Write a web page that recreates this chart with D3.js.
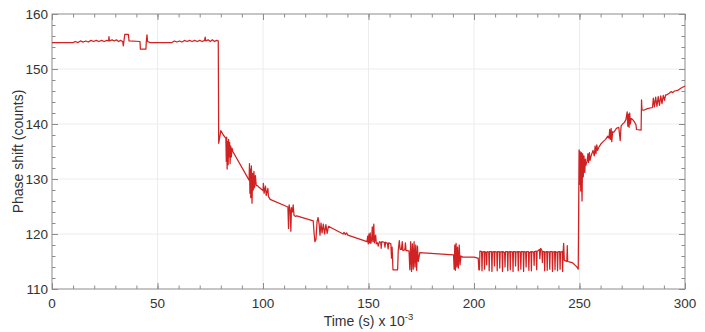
<!DOCTYPE html>
<html>
<head>
<meta charset="utf-8">
<title>Phase shift</title>
<script src="https://cdnjs.cloudflare.com/ajax/libs/d3/7.8.5/d3.min.js"></script>
<style>
  body { margin: 0; background: #fff; }
  svg { display: block; font-family: "Liberation Sans", Arial, sans-serif; }
</style>
</head>
<body>
<svg id="chart" width="705" height="332"></svg>
<script>
// time (s x 10^-3), phase shift (counts)
const plateau = [
  [0,154.8],[10,154.8],[11,155.0],[12.3,154.8],[13.5,155.1],[14.8,154.9],[16,155.1],[17.2,154.9],
  [18.5,155.2],[19.7,155.0],[21,155.2],[22.2,155.0],[23.5,155.2],[24.7,155.0],[26,155.2],[26.8,155.1],
  [27,155.9],[27.2,155.1],[28.5,155.3],[29.5,155.1],[30.5,155.3],[31.5,155.0],[32.5,155.2],[33.5,155.0],
  [33.8,154.2],[34.1,155.1],[34.5,156.3],[36.2,156.3],[36.5,155.1],[41.7,155.0],[41.9,153.6],[44.5,153.6],
  [44.7,155.0],[45.0,156.2],[45.3,155.0],[46.5,154.8],[56.8,154.8],[58,155.1],[59.2,154.9],[60.4,155.1],
  [61.6,154.9],[62.8,155.2],[64,155.0],[65.2,155.2],[66.4,155.0],[67.6,155.2],[68.8,155.0],[70,155.2],
  [71.2,155.0],[72.3,155.2],[72.6,155.8],[72.9,155.1],[74,155.3],[75,155.0],[76,155.3],[77,155.0],
  [78,155.2],[78.8,155.1]
];
const decay = [
  [79.0,136.5],[79.5,137.6],[80.0,138.8],[81.2,138.0],[82.4,137.4],[82.6,133.2],[82.8,137.6],[83.0,131.8],
  [83.2,136.8],[83.5,132.6],[83.7,137.2],[83.9,134.0],[84.2,136.6],[84.4,132.8],[84.7,136.0],[85.0,134.0],
  [85.3,135.6],[85.7,135.0],[93.4,129.8],[93.6,132.8],[93.8,127.4],[94.0,131.8],[94.2,126.6],[94.5,132.4],
  [94.8,125.6],[95.1,131.0],[95.4,128.0],[95.7,131.4],[96.0,128.4],[96.4,130.6],[96.8,128.8],[97.4,128.8],
  [97.8,128.6],[100.0,127.9],[100.2,129.2],[100.5,127.4],[101.2,128.7],[101.5,127.0],[102.3,128.3],[102.6,126.8],
  [103.4,126.3],[111.8,124.9],[112.1,121.0],[112.4,125.3],[112.9,124.2],[113.2,120.5],[113.5,124.8],[114.0,124.0],
  [114.3,125.3],[114.7,123.4],[115.3,123.2],[116.0,123.3],[123.8,122.4],[124.2,120.2],[124.6,118.6],[125.1,119.0],
  [125.6,122.2],[126.1,123.0],[126.6,121.8],[127.0,119.8],[127.5,122.0],[128.0,120.2],[128.6,121.8],[129.2,120.0],
  [129.8,121.7],[130.4,120.1],[131.0,121.4],[138.0,120.0],[138.4,120.3],[139.0,119.9],[139.6,120.2],[140.2,119.8],
  [149.3,118.6],[149.6,119.6],[149.9,118.2],[150.2,120.0],[150.5,118.4],[150.8,120.2],[151.1,118.3],[151.5,119.0],
  [151.8,121.3],[152.1,118.6],[152.5,121.8],[152.8,118.4],[153.4,119.8],[153.7,118.2],[154.3,118.4],[154.6,117.8],
  [155.2,118.6],[155.8,118.5],[156.0,117.4],[156.3,118.6],[157.5,118.5],[157.8,117.6],[158.1,118.5],[159.0,118.3],
  [159.3,117.3],[159.6,118.4],[160.6,118.2],[160.9,115.6],[161.2,117.6],[161.6,113.5],[163.8,113.5],[164.1,117.0],
  [164.6,118.8],[165.0,117.2],[165.6,117.2],[166.0,118.6],[166.3,117.0],[167.2,117.1],[167.5,118.4],[167.8,117.0],
  [168.6,117.0],[169.2,116.9],[169.6,113.5],[170.0,118.6],[170.4,113.2],[170.8,118.2],[171.2,113.6],[171.6,118.6],
  [172.0,114.0],[172.4,118.0],[172.8,113.4],[173.2,117.8],[173.6,115.0],[174.3,116.6],[190.3,116.2],[190.6,113.6],
  [190.9,118.0],[191.2,113.4],[191.5,118.3],[191.9,114.0],[192.2,117.6],[192.6,113.8],[193.0,118.0],[193.4,114.4],
  [193.8,116.0],[194.7,115.8],[200.0,115.8],[201.8,115.6]
];
const noisyFloor = [
  [202.0,115.6],[202.3,113.5],[202.6,113.5],[202.8,116.9],[203.6,116.8],[203.8,113.3],[204.0,116.7],[204.8,116.8],
  [205.0,113.6],[205.2,116.8],[205.8,116.6],[206.0,114.4],[206.2,116.8],[207.0,116.7],[207.2,113.3],[207.4,116.8],
  [208.3,116.8],[208.5,113.2],[208.7,116.7],[209.5,116.8],[209.7,114.2],[209.9,116.8],[210.8,116.7],[211.0,113.3],
  [211.2,116.8],[212.0,116.8],[212.2,113.8],[212.4,116.7],[213.3,116.8],[213.5,113.2],[213.7,116.8],[214.5,116.6],
  [214.7,114.0],[214.9,116.8],[215.8,116.8],[216.0,113.3],[216.2,116.7],[217.0,116.8],[217.2,113.5],[217.4,116.8],
  [218.3,116.7],[218.5,113.2],[218.7,116.8],[219.5,116.8],[219.7,114.2],[219.9,116.7],[220.8,116.8],[221.0,113.3],
  [221.2,116.8],[222.0,116.7],[222.2,113.6],[222.4,116.8],[223.3,116.8],[223.5,113.2],[223.7,116.8],[224.5,116.7],
  [224.7,114.0],[224.9,116.8],[225.8,116.8],[226.0,113.4],[226.2,116.6],[227.0,116.8],[227.2,113.3],[227.4,116.8],
  [228.3,116.7],[228.5,114.3],[228.7,116.8],[229.5,116.9],[229.7,113.5],[229.9,116.8],[231.0,117.2],[231.2,115.5],
  [231.6,117.4],[232.2,117.0],[232.4,114.8],[232.6,116.8],[233.3,116.8],[233.5,113.3],[233.7,116.7],[234.5,116.8],
  [234.7,113.4],[234.9,116.8],[235.7,116.7],[235.9,113.6],[236.1,116.8],[237.0,116.8],[237.2,113.2],[237.4,116.7],
  [238.2,116.8],[238.4,113.5],[238.6,116.8],[239.4,116.6],[239.6,113.3],[239.8,116.8],[240.6,116.8],[240.8,113.6],
  [241.0,116.7],[241.8,116.8],[242.0,113.2],[242.2,116.5],[242.5,118.3],[242.8,115.2],[243.5,115.1],[244.0,115.0],
  [244.2,117.9],[244.4,115.0],[245.5,114.9],[246.5,114.8],[247.2,114.6],[248.0,114.3],[248.8,114.0],[249.4,113.6]
];
const recovery = [
  [249.8,135.3],[250.0,129.0],[250.3,135.0],[250.6,127.8],[250.9,134.8],[251.2,126.0],[251.5,134.6],[251.8,130.4],
  [252.1,134.2],[252.5,131.2],[252.8,133.6],[253.0,132.5],[253.6,133.2],[254.0,134.6],[254.3,133.0],[254.7,134.8],
  [255.0,133.4],[255.5,134.2],[256.4,135.2],[257.0,134.2],[257.4,136.0],[257.8,134.6],[258.2,136.2],[258.6,135.2],
  [259.2,135.8],[260.2,136.4],[261.2,136.8],[262.4,137.2],[263.4,137.8],[264.0,137.4],[264.3,139.0],[264.6,137.2],
  [265.0,139.2],[265.3,136.8],[265.7,138.6],[266.3,138.5],[267.5,139.2],[268.6,139.4],[269.0,138.0],[269.3,137.0],
  [269.7,139.6],[270.4,140.0],[271.3,140.3],[272.0,140.8],[272.6,142.2],[272.9,139.6],[273.2,141.8],[273.5,139.4],
  [273.8,142.0],[274.1,140.0],[274.5,141.0],[275.2,140.8],[276.0,140.4],[276.8,139.8],[277.0,139.0],[279.2,138.9],
  [279.4,144.4],[279.6,142.6],[280.4,142.5],[282.2,142.8],[284.6,143.0],[285.0,144.7],[285.5,143.1],[286.1,144.9],
  [286.7,143.2],[287.3,145.0],[287.9,143.4],[288.5,145.1],[289.1,143.7],[289.7,145.2],[290.3,144.3],[290.8,145.3],
  [291.4,145.3],[292.5,145.6],[293.5,145.9],[294.2,145.7],[295.0,146.0],[296.5,146.1],[298.0,146.5],[300.0,146.9]
];
const xTicks = [0, 50, 100, 150, 200, 250, 300];
const yTicks = [110, 120, 130, 140, 150, 160];

const series = plateau.concat(decay, noisyFloor, recovery);

const svg = d3.select('#chart');
const mL = 52, mR = 685, mT = 14, mB = 289;

const x = d3.scaleLinear().domain([0, 300]).range([mL, mR]);
const y = d3.scaleLinear().domain([110, 160]).range([mB, mT]);

// grid
svg.append('g').selectAll('line').data(xTicks.slice(1, -1)).enter().append('line')
  .attr('x1', d => x(d)).attr('x2', d => x(d)).attr('y1', mT).attr('y2', mB)
  .attr('stroke', '#ececec');
svg.append('g').selectAll('line').data(yTicks.slice(1, -1)).enter().append('line')
  .attr('y1', d => y(d)).attr('y2', d => y(d)).attr('x1', mL).attr('x2', mR)
  .attr('stroke', '#ececec');

// inward ticks on all four sides
const axisColor = '#8c8c8c';
function ticks(axis, scale, values, size, offset) {
  const g = svg.append('g').attr('transform', offset)
    .call(axis(scale).tickValues(values).tickSize(size).tickFormat(''));
  g.select('.domain').remove();
  g.selectAll('line').attr('stroke', axisColor);
}
const xMinor = d3.range(0, 301, 10), yMinor = d3.range(110, 161, 2);
ticks(d3.axisBottom, x, xMinor, -3.5, `translate(0,${mB})`);
ticks(d3.axisBottom, x, xTicks, -6, `translate(0,${mB})`);
ticks(d3.axisTop, x, xMinor, -3.5, `translate(0,${mT})`);
ticks(d3.axisTop, x, xTicks, -6, `translate(0,${mT})`);
ticks(d3.axisLeft, y, yMinor, -3.5, `translate(${mL},0)`);
ticks(d3.axisLeft, y, yTicks, -6, `translate(${mL},0)`);
ticks(d3.axisRight, y, yMinor, -3.5, `translate(${mR},0)`);
ticks(d3.axisRight, y, yTicks, -6, `translate(${mR},0)`);

svg.append('rect')
  .attr('x', mL).attr('y', mT).attr('width', mR - mL).attr('height', mB - mT)
  .attr('fill', 'none').attr('stroke', axisColor);

// tick labels
svg.append('g').selectAll('text').data(xTicks).enter().append('text')
  .attr('x', d => x(d)).attr('y', mB + 19)
  .attr('text-anchor', 'middle').attr('font-size', 13.5).attr('fill', '#333')
  .text(d => d);
svg.append('g').selectAll('text').data(yTicks).enter().append('text')
  .attr('x', mL - 4).attr('y', d => y(d)).attr('dy', '0.36em')
  .attr('text-anchor', 'end').attr('font-size', 13.5).attr('fill', '#333')
  .text(d => d);

// axis titles
const xt = svg.append('text')
  .attr('x', (mL + mR) / 2).attr('y', 326)
  .attr('text-anchor', 'middle').attr('font-size', 14).attr('fill', '#333');
xt.append('tspan').text('Time (s) x 10');
xt.append('tspan').attr('font-size', 9.5).attr('dy', -6).text('-3');

svg.append('text')
  .attr('transform', `translate(23,${(mT + mB) / 2}) rotate(-90)`)
  .attr('text-anchor', 'middle').attr('font-size', 14).attr('fill', '#333')
  .text('Phase shift (counts)');

// signal
const line = d3.line().x(d => x(d[0])).y(d => y(d[1]));
svg.append('path')
  .datum(series)
  .attr('d', line)
  .attr('fill', 'none')
  .attr('stroke', '#d02222')
  .attr('stroke-width', 1.25)
  .attr('stroke-linejoin', 'round');
</script>
</body>
</html>
